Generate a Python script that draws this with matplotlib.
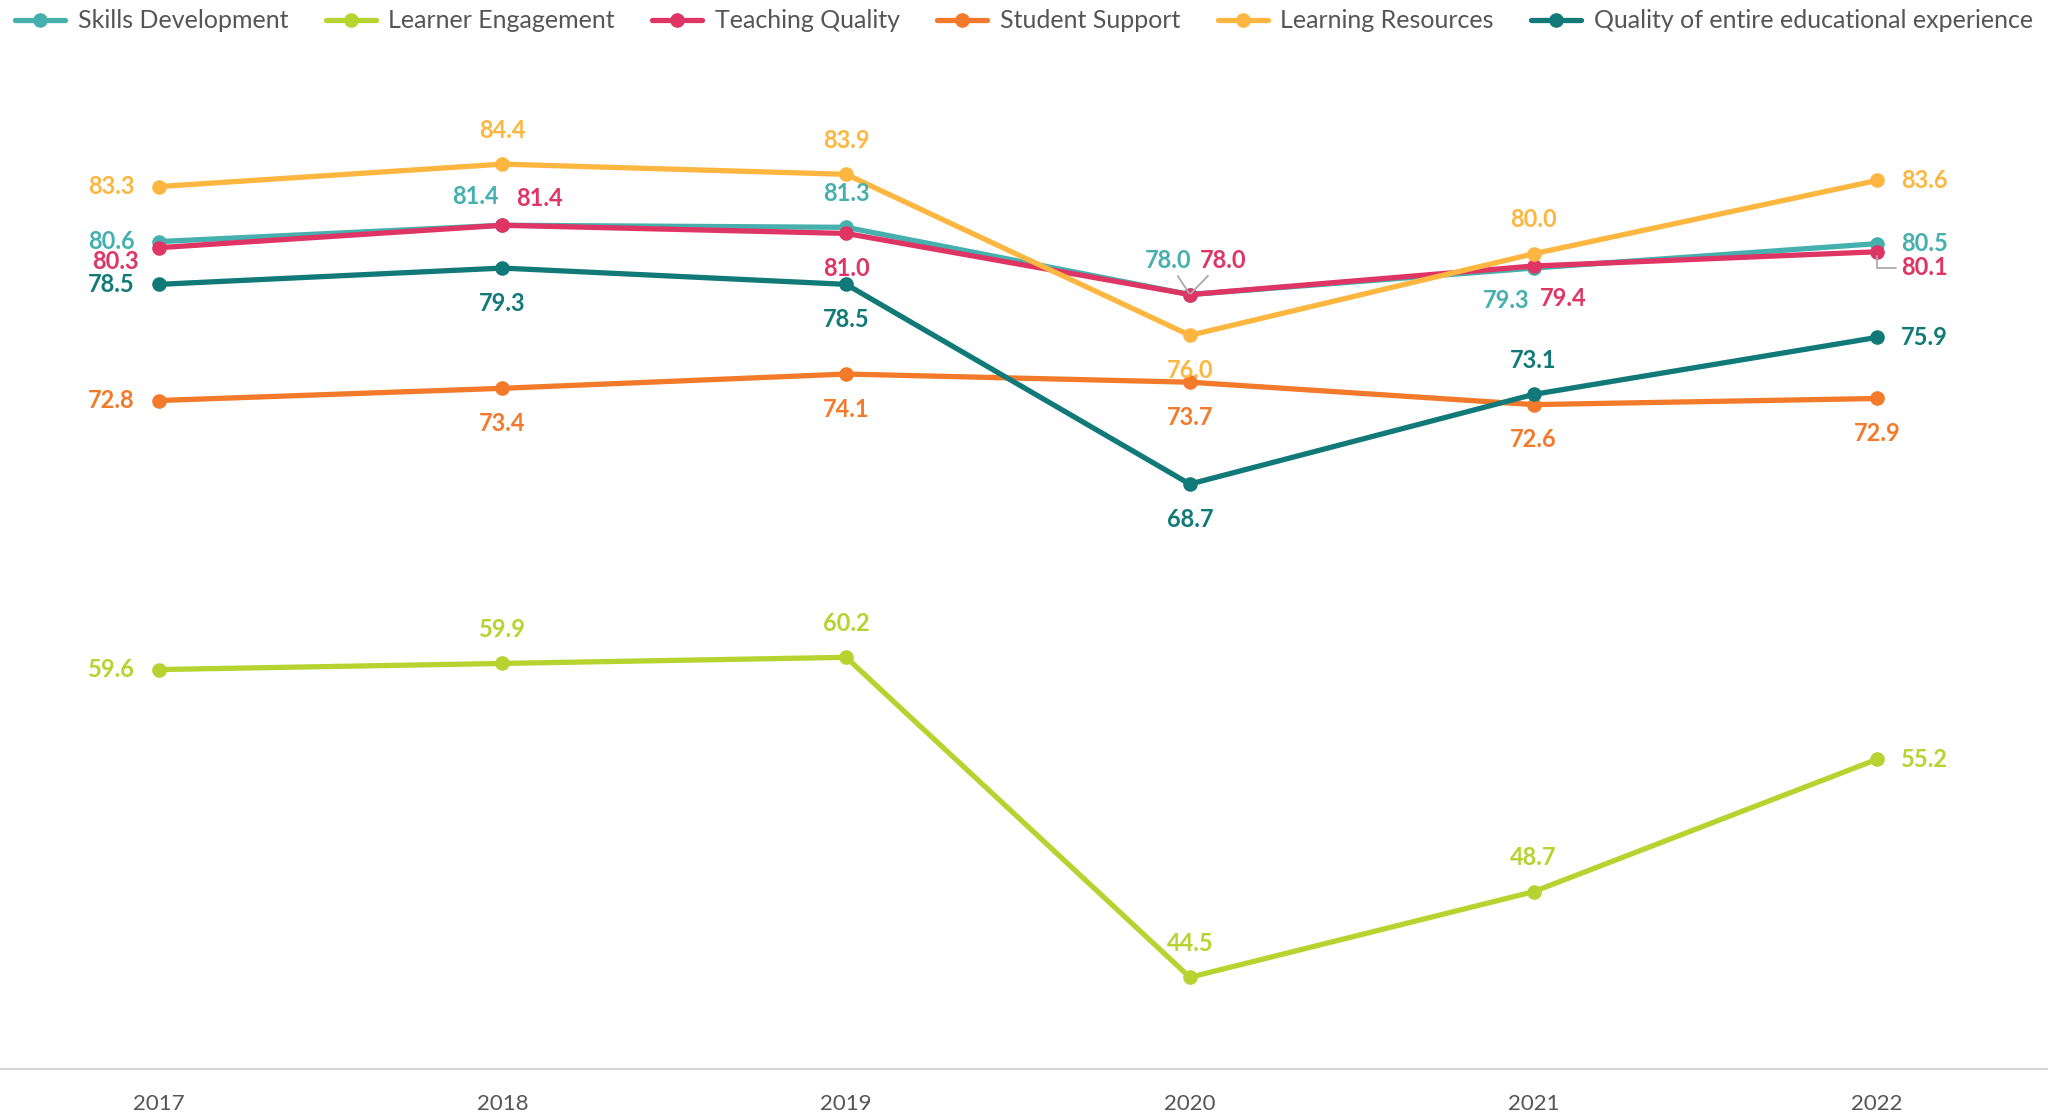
import matplotlib.pyplot as plt

plt.rcParams["font.family"] = ["Lato", "DejaVu Sans"]

years = ["2017", "2018", "2019", "2020", "2021", "2022"]

skills = [80.6, 81.4, 81.3, 78.0, 79.3, 80.5]
engagement = [59.6, 59.9, 60.2, 44.5, 48.7, 55.2]
teaching = [80.3, 81.4, 81.0, 78.0, 79.4, 80.1]
support = [72.8, 73.4, 74.1, 73.7, 72.6, 72.9]
resources = [83.3, 84.4, 83.9, 76.0, 80.0, 83.6]
quality = [78.5, 79.3, 78.5, 68.7, 73.1, 75.9]

names = ["Skills Development", "Learner Engagement", "Teaching Quality",
         "Student Support", "Learning Resources",
         "Quality of entire educational experience"]
colors = ["#45b0ae", "#b6d330", "#de3565", "#f27a2a", "#fdb640", "#117a78"]
series = [skills, engagement, teaching, support, resources, quality]

# label placement per point: L=left, R=right, A=above, B=below,
# AL/AR = above left/right, BL/BR = below left/right, * = leader line
place = [
    ["L", "AL", "A", "AL*", "BL", "R"],   # skills
    ["L", "A", "A", "A", "A", "R"],       # engagement
    ["LB", "AR", "B", "AR*", "BR", "RB*"],  # teaching
    ["L", "B", "B", "B", "B", "B"],       # support
    ["L", "A", "A", "B", "A", "R"],       # resources
    ["L", "B", "B", "B", "A", "R"],       # quality
]

offsets = {
    "L": ((-24, 0), "right"),
    "LB": ((-20, -14), "right"),
    "R": ((24, 0), "left"),
    "RB": ((24, -16), "left"),
    "A": ((0, 34), "center"),
    "B": ((0, -35), "center"),
    "AL": ((-27, 29), "center"),
    "AR": ((37, 27), "center"),
    "BL": ((-27, -32), "center"),
    "BR": ((30, -32), "center"),
}

fig = plt.figure(figsize=(20.57, 11.16), dpi=100)
ax = fig.add_axes([0, 1 - 1069 / 1116, 2047 / 2057, (1069 - 50) / 1116])

x = list(range(len(years)))
for vals, name, c, pl in zip(series, names, colors, place):
    ax.plot(x, vals, color=c, lw=3.8, marker="o", ms=9.5, label=name,
            solid_capstyle="round")
    for xi, v, p in zip(x, vals, pl):
        leader = p.endswith("*")
        p = p.rstrip("*")
        (dx, dy), ha = offsets[p]
        if leader and p == "AL":
            dx, dy = -22, 34
        if leader and p == "AR":
            dx, dy = 33, 34
        kw = {}
        if leader:
            if p == "RB":
                kw["arrowprops"] = dict(arrowstyle="-", color="#aaaaaa", lw=1.3,
                                        shrinkA=2, shrinkB=3,
                                        connectionstyle="angle,angleA=0,angleB=90,rad=0")
            else:
                kw["arrowprops"] = dict(arrowstyle="-", color="#aaaaaa", lw=1.3,
                                        shrinkA=1, shrinkB=1)
        ax.annotate(f"{v:.1f}", (xi, v), xytext=(dx, dy),
                    textcoords="offset pixels", ha=ha, va="center",
                    color=c, fontsize=17, fontweight="bold", **kw)

ax.set_xlim(-0.462, 5.494)
ax.set_ylim(40, 90)
ax.set_xticks(x)
ax.set_xticklabels(years)
ax.set_yticks([])
for s in ["top", "right", "left"]:
    ax.spines[s].set_visible(False)
ax.spines["bottom"].set_color("#d6d6d6")
ax.spines["bottom"].set_linewidth(1.5)
ax.tick_params(axis="x", length=0, pad=18, labelsize=16, labelcolor="#555555")

fig.legend(loc="upper left", bbox_to_anchor=(0.0, 1.005), ncol=6, frameon=False,
           fontsize=18, handlelength=2.0, handletextpad=0.5, columnspacing=1.5,
           labelcolor="#555555", borderaxespad=0.2)

fig.savefig("out.png", dpi=100)
